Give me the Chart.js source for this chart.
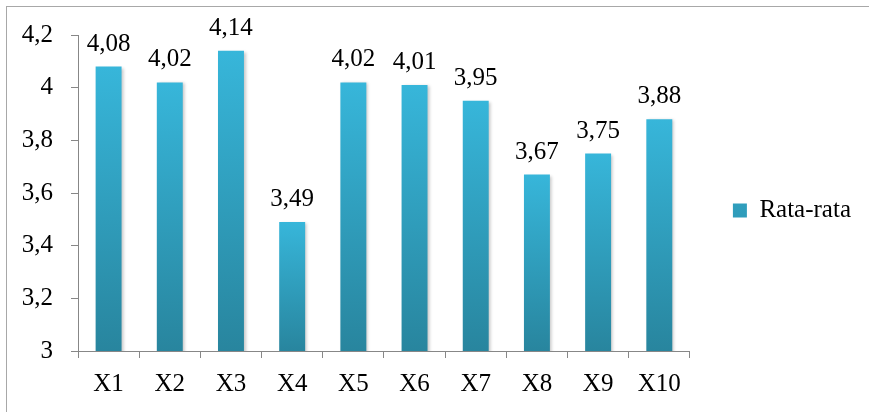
<!DOCTYPE html>
<html>
<head>
<meta charset="utf-8">
<script src="https://cdn.jsdelivr.net/npm/chart.js@4.4.0/dist/chart.umd.min.js"></script>
<style>
html, body { margin: 0; padding: 0; background: #fff; overflow: hidden; }
#frame { position: absolute; left: 6px; top: 6px; width: 880px; height: 440px; border: 1px solid #a8a8a8; box-sizing: border-box; }
#chart { position: absolute; left: 0; top: 0; }
</style>
</head>
<body>
<div id="frame"></div>
<canvas id="chart" width="869" height="412"></canvas>
<script>
// dados do gráfico
const kategori = ['X1', 'X2', 'X3', 'X4', 'X5', 'X6', 'X7', 'X8', 'X9', 'X10']
const rataRata = [4.08, 4.02, 4.14, 3.49, 4.02, 4.01, 3.95, 3.67, 3.75, 3.88]
const yTicks = [3, 3.2, 3.4, 3.6, 3.8, 4, 4.2]

const fonte = { family: "'Liberation Serif', 'Times New Roman', serif", size: 25 }
const corEixo = '#878787'

// vírgula decimal
const fmt = (v, d) => (d ? v.toFixed(d) : String(+v.toFixed(1))).replace('.', ',')

// degradê de cada barra, claro em cima e escuro em baixo
const corBarra = (c) => {
    const chart = c.chart
    if (!chart.chartArea || c.type !== 'data') return '#31a8ca'
    const y = chart.scales.y
    const topo = y.getPixelForValue(c.raw)
    const base = y.getPixelForValue(y.min)
    const g = chart.ctx.createLinearGradient(0, topo, 0, base)
    g.addColorStop(0, '#37b6da')
    g.addColorStop(1, '#28859e')
    return g
}

// sombra das barras + rótulos de valor
const rotulos = {
    id: 'rotulos',
    beforeDatasetsDraw(chart) {
        const ctx = chart.ctx
        ctx.save()
        ctx.shadowColor = 'rgba(0,0,0,0.22)'
        ctx.shadowBlur = 3
        ctx.shadowOffsetX = 2
        ctx.shadowOffsetY = 1
    },
    afterDatasetsDraw(chart) {
        const ctx = chart.ctx
        ctx.restore()
        ctx.save()
        ctx.font = fonte.size + 'px ' + fonte.family
        ctx.fillStyle = '#000'
        ctx.textAlign = 'center'
        ctx.textBaseline = 'alphabetic'
        chart.getDatasetMeta(0).data.forEach((bar, i) => {
            ctx.fillText(fmt(rataRata[i], 2), bar.x, bar.y - 16)
        })
        ctx.restore()
    }
}

// ajusta a altura da legenda
const legendaMeio = {
    id: 'legendaMeio',
    afterLayout(chart) {
        chart.legend.top -= 13
        chart.legend.bottom -= 13
    }
}

let ctx = document.getElementById('chart')
let chart = new Chart(ctx, {
    type: 'bar',
    data: {
        labels: kategori,
        datasets: [{
            label: 'Rata-rata',
            data: rataRata,
            backgroundColor: corBarra,
            borderWidth: 0,
            barPercentage: 0.424,
            categoryPercentage: 1
        }]
    },
    options: {
        responsive: false,
        animation: false,
        layout: { padding: { left: 0, top: 35, right: 8, bottom: 0 } },
        plugins: {
            tooltip: { enabled: false },
            legend: {
                position: 'right',
                labels: {
                    boxWidth: 14,
                    boxHeight: 14,
                    padding: 43,
                    color: '#000',
                    font: fonte
                }
            }
        },
        scales: {
            y: {
                min: 3,
                max: 4.2,
                afterFit: (s) => { s.width = 78 },
                afterBuildTicks: (s) => { s.ticks = yTicks.map(v => ({ value: v })) },
                border: { color: corEixo, width: 1 },
                grid: { drawOnChartArea: false, drawTicks: true, tickLength: 7, color: corEixo },
                ticks: { font: fonte, color: '#000', padding: 18, callback: (v) => fmt(v) }
            },
            x: {
                afterFit: (s) => { s.height = 61 },
                border: { color: corEixo, width: 1 },
                grid: { offset: true, drawOnChartArea: false, drawTicks: true, tickLength: 7, color: corEixo },
                ticks: { font: fonte, color: '#000', padding: 11 }
            }
        }
    },
    plugins: [rotulos, legendaMeio]
});
</script>
</body>
</html>
